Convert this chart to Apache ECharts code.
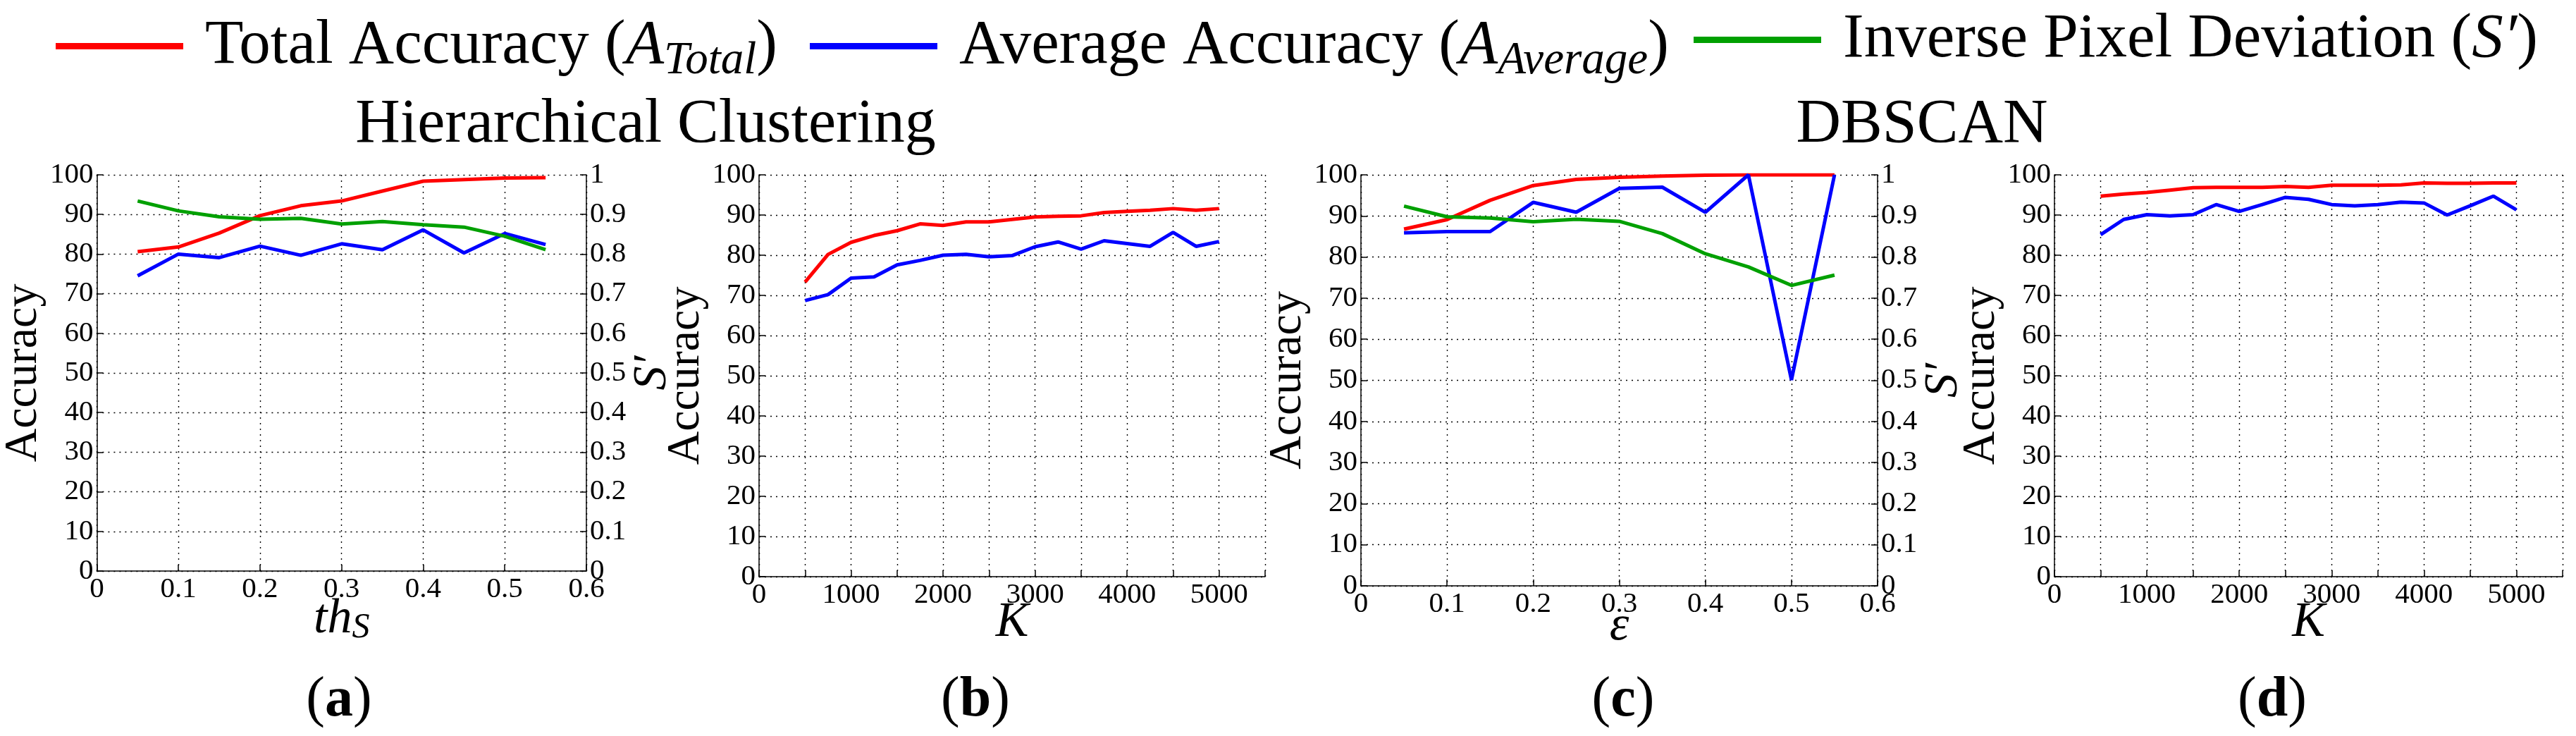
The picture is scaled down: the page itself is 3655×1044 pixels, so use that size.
<!DOCTYPE html>
<html>
<head>
<meta charset="utf-8">
<script src="https://cdn.jsdelivr.net/npm/echarts@6/dist/echarts.min.js"></script>
<style>
  html, body { margin: 0; padding: 0; background: #fff; }
  #main { width: 3655px; height: 1044px; }
</style>
</head>
<body>
<div id="main"></div>
<script>
// x values
var thS = [0.05, 0.1, 0.15, 0.2, 0.25, 0.3, 0.35, 0.4, 0.45, 0.5, 0.55];
var eps = [0.05, 0.1, 0.15, 0.2, 0.25, 0.3, 0.35, 0.4, 0.45, 0.5, 0.55];
var kVals = [500, 750, 1000, 1250, 1500, 1750, 2000, 2250, 2500, 2750, 3000, 3250, 3500, 3750, 4000, 4250, 4500, 4750, 5000];

// (a) hierarchical clustering vs th_S
var hcThTotal = [80.6, 81.8, 85.3, 89.7, 92.2, 93.4, 95.9, 98.4, 98.8, 99.2, 99.3];
var hcThAverage = [74.5, 80.0, 79.1, 82.0, 79.7, 82.6, 81.1, 86.1, 80.3, 85.2, 82.4];
var hcThInverse = [0.934, 0.909, 0.894, 0.888, 0.890, 0.876, 0.882, 0.874, 0.868, 0.845, 0.811];

// (b) hierarchical clustering vs K
var hcKTotal = [73.3, 80.2, 83.2, 84.9, 86.1, 87.8, 87.4, 88.3, 88.3, 88.9, 89.5, 89.7, 89.8, 90.6, 90.9, 91.2, 91.6, 91.2, 91.6];
var hcKAverage = [68.7, 70.2, 74.3, 74.6, 77.6, 78.7, 80.0, 80.2, 79.6, 79.9, 82.1, 83.3, 81.5, 83.6, 82.9, 82.2, 85.7, 82.2, 83.4];

// (c) DBSCAN vs epsilon
var dbEpsTotal = [86.8, 89.1, 93.8, 97.4, 98.9, 99.4, 99.7, 99.9, 100, 100, 100];
var dbEpsAverage = [85.9, 86.2, 86.2, 93.3, 90.9, 96.7, 97.0, 90.9, 100, 50.1, 100];
var dbEpsInverse = [0.924, 0.898, 0.895, 0.886, 0.892, 0.887, 0.857, 0.808, 0.776, 0.731, 0.756];

// (d) DBSCAN vs K
var dbKTotal = [94.7, 95.2, 95.6, 96.2, 96.8, 96.9, 96.9, 96.9, 97.1, 96.9, 97.4, 97.4, 97.4, 97.5, 98.0, 97.9, 97.9, 98.0, 98.0];
var dbKAverage = [85.1, 88.9, 90.1, 89.8, 90.1, 92.6, 90.9, 92.6, 94.4, 93.9, 92.6, 92.3, 92.6, 93.2, 93.0, 90.0, 92.3, 94.7, 91.3];

var accTicks = [0, 100, 10];
var sTicks = [0, 1, 0.1];

var NAME_T = 'Total Accuracy';
var NAME_A = 'Average Accuracy';
var NAME_S = 'Inverse Pixel Deviation';

var FONT = '"Liberation Serif", serif';
var RED = '#ff0000', BLUE = '#0000ff', GREEN = '#00a000';

var pairs = function (xs, ys) {
	return xs.map(function (x, i) { return [x, ys[i]]; });
};

var grids = [
	{left: 118, top: 248, width: 714, height: 562},
	{left: 1077, top: 248, width: 718, height: 570},
	{left: 1931, top: 248, width: 733, height: 583},
	{left: 2915, top: 248, width: 721, height: 570}
];

var dotted = {lineStyle: {color: '#000', type: [2, 6], width: 1.4}};
var axisLine = {show: true, onZero: false, lineStyle: {color: '#000', width: 1.5}};
var tickLabel = {color: '#000', fontFamily: FONT, fontSize: 41, margin: 6};
var tick = {show: true, inside: true, length: 9, lineStyle: {color: '#000', width: 1.5}};

var xAxisOf = function (idx, max, interval, name, gap, fmt) {
	return {
		type: 'value', gridIndex: idx, min: 0, max: max, interval: interval,
		axisLine: axisLine, axisTick: tick, splitLine: dotted,
		axisLabel: Object.assign({formatter: fmt, hideOverlap: false}, tickLabel),
		name: name, nameLocation: 'middle', nameGap: gap, nameMoveOverlap: false,
		nameTextStyle: {
			color: '#000', fontFamily: FONT, fontSize: 70, fontStyle: 'italic',
			rich: {
				i: {fontFamily: FONT, fontSize: 70, fontStyle: 'italic', color: '#000', lineHeight: 76},
				s: {fontFamily: FONT, fontSize: 50, fontStyle: 'italic', color: '#000', lineHeight: 52, padding: [24, 0, 0, 0]}
			}
		}
	};
};

var kFmt = function (v) { return v % 1000 === 0 ? String(v) : ''; };

var accAxis = function (idx, gap) {
	return {
		type: 'value', gridIndex: idx, position: 'left',
		min: accTicks[0], max: accTicks[1], interval: accTicks[2],
		axisLine: axisLine, axisTick: tick, splitLine: dotted,
		axisLabel: Object.assign({}, tickLabel, {margin: 5}),
		name: 'Accuracy', nameLocation: 'middle', nameRotate: 90, nameGap: gap,
		nameTextStyle: {color: '#000', fontFamily: FONT, fontSize: 66}
	};
};

var sAxis = function (idx, gap) {
	return {
		type: 'value', gridIndex: idx, position: 'right',
		min: sTicks[0], max: sTicks[1], interval: sTicks[2],
		axisLine: axisLine, axisTick: tick, splitLine: {show: false},
		axisLabel: Object.assign({}, tickLabel, {margin: 5}),
		name: 'S\u2032', nameLocation: 'middle', nameRotate: 90, nameGap: gap,
		nameTextStyle: {color: '#000', fontFamily: FONT, fontSize: 68, fontStyle: 'italic'}
	};
};

var line = function (name, color, xi, yi, data) {
	return {
		name: name, type: 'line', xAxisIndex: xi, yAxisIndex: yi,
		data: data, showSymbol: false, symbol: 'none',
		lineStyle: {color: color, width: 5}, itemStyle: {color: color},
		emphasis: {disabled: true}
	};
};

var legendRich = {
	f: {fontFamily: FONT, fontSize: 89, color: '#000', lineHeight: 100, padding: [0, 0, 0, 26]},
	n: {fontFamily: FONT, fontSize: 89, color: '#000', lineHeight: 100},
	i: {fontFamily: FONT, fontSize: 89, fontStyle: 'italic', color: '#000', lineHeight: 100},
	s: {fontFamily: FONT, fontSize: 65, fontStyle: 'italic', color: '#000', lineHeight: 60, padding: [42, 0, 0, 0]}
};
var legendText = {};
legendText[NAME_T] = '{f|Total Accuracy (}{i|A}{s|Total}{n|)}';
legendText[NAME_A] = '{f|Average Accuracy (}{i|A}{s|Average}{n|)}';
legendText[NAME_S] = '{f|Inverse Pixel Deviation (}{i|S\u2032}{n|)}';

var legendAt = function (name, left) {
	return {
		data: [name], left: left, top: 12, padding: 0,
		icon: 'rect', itemWidth: 181, itemHeight: 9,
		selectedMode: false,
		formatter: function (n) { return legendText[n]; },
		textStyle: {fontFamily: FONT, rich: legendRich}
	};
};

var labelText = function (x, y, letter) {
	return {
		type: 'text', x: x, y: y, silent: true,
		style: {
			text: '{p|(}{b|' + letter + '}{p|)}',
			rich: {
				p: {fontFamily: FONT, fontSize: 80, fill: '#000'},
				b: {fontFamily: FONT, fontSize: 80, fontWeight: 'bold', fill: '#000'}
			},
			font: '80px "Liberation Serif"', fill: '#000',
			align: 'center', verticalAlign: 'middle'
		}
	};
};

var headText = function (x, y, text) {
	return {
		type: 'text', x: x, y: y, silent: true,
		style: {
			text: text, font: '88px "Liberation Serif"', fill: '#000',
			align: 'center', verticalAlign: 'middle'
		}
	};
};

var chart = echarts.init(document.getElementById('main'));
chart.setOption({
	animation: false,
	backgroundColor: '#fff',
	textStyle: {fontFamily: FONT, color: '#000'},
	legend: [legendAt(NAME_T, 79), legendAt(NAME_A, 1149), legendAt(NAME_S, 2403)],
	grid: grids,
	xAxis: [
		xAxisOf(0, 0.6, 0.1, '{i|th}{s|S}', 31),
		xAxisOf(1, 5500, 500, '{i|K}', 28, kFmt),
		xAxisOf(2, 0.6, 0.1, '{i|\u03b5}', 20),
		xAxisOf(3, 5500, 500, '{i|K}', 28, kFmt)
	],
	yAxis: [
		accAxis(0, 44),
		sAxis(0, 54),
		accAxis(1, 52),
		accAxis(2, 50),
		sAxis(2, 60),
		accAxis(3, 47)
	],
	series: [
		line(NAME_T, RED, 0, 0, pairs(thS, hcThTotal)),
		line(NAME_A, BLUE, 0, 0, pairs(thS, hcThAverage)),
		line(NAME_S, GREEN, 0, 1, pairs(thS, hcThInverse)),
		line(NAME_T, RED, 1, 2, pairs(kVals, hcKTotal)),
		line(NAME_A, BLUE, 1, 2, pairs(kVals, hcKAverage)),
		line(NAME_T, RED, 2, 3, pairs(eps, dbEpsTotal)),
		line(NAME_A, BLUE, 2, 3, pairs(eps, dbEpsAverage)),
		line(NAME_S, GREEN, 2, 4, pairs(eps, dbEpsInverse)),
		line(NAME_T, RED, 3, 5, pairs(kVals, dbKTotal)),
		line(NAME_A, BLUE, 3, 5, pairs(kVals, dbKAverage))
	],
	graphic: [
		headText(916, 178, 'Hierarchical Clustering'),
		headText(2727, 178, 'DBSCAN'),
		labelText(481, 994, 'a'),
		labelText(1384, 994, 'b'),
		labelText(2303, 994, 'c'),
		labelText(3224, 994, 'd')
	]
});
</script>
</body>
</html>
